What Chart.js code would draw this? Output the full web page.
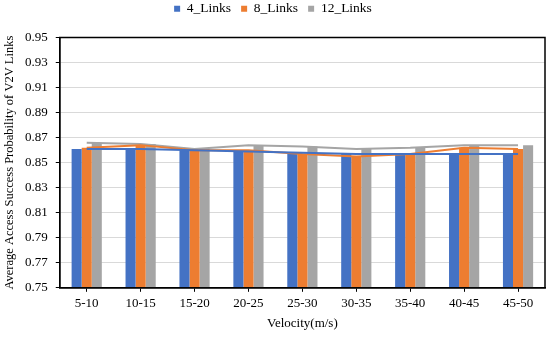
<!DOCTYPE html>
<html>
<head>
<meta charset="utf-8">
<script src="https://cdn.jsdelivr.net/npm/chart.js@4.4.1/dist/chart.umd.min.js"></script>
<style>
  html, body { margin: 0; padding: 0; background: #fff; }
  #chart { display: block; }
</style>
</head>
<body>
<canvas id="chart" width="550" height="337"></canvas>
<script>
// velocity ranges on the x axis
const velocities = ['5-10', '10-15', '15-20', '20-25', '25-30', '30-35', '35-40', '40-45', '45-50'];
// access success probability per link count
const links4 = [0.861, 0.861, 0.860, 0.859, 0.858, 0.857, 0.857, 0.857, 0.857];
const links8 = [0.862, 0.864, 0.860, 0.860, 0.857, 0.855, 0.857, 0.862, 0.861];
const links12 = [0.866, 0.865, 0.861, 0.864, 0.863, 0.861, 0.862, 0.864, 0.864];
const seriesNames = ['4_Links', '8_Links', '12_Links'];
const yTicks = [0.75, 0.77, 0.79, 0.81, 0.83, 0.85, 0.87, 0.89, 0.91, 0.93, 0.95];

const colors = ['#4472C4', '#ED7D31', '#A5A5A5'];
const serif = 'Liberation Serif, Times New Roman, serif';
const all = [links4, links8, links12];

// box round the plot area
const frame = {
    id: 'frame',
    afterDraw(chart) {
        const a = chart.chartArea, ctx = chart.ctx;
        ctx.save();
        ctx.strokeStyle = '#000';
        ctx.lineWidth = 1.5;
        ctx.strokeRect(a.left, a.top, a.right - a.left, a.bottom - a.top);
        ctx.restore();
    }
};

// extra room under the legend
const legendGap = {
    id: 'legendGap',
    beforeInit(chart) {
        const fit = chart.legend.fit;
        chart.legend.fit = function () {
            fit.bind(chart.legend)();
            this.height += 12;
        };
    }
};

let datasets = [];
all.forEach(function (vals, i) {
    datasets.push({
        type: 'line', label: seriesNames[i] + ' line', data: vals,
        borderColor: colors[i], borderWidth: 2, pointRadius: 0,
        fill: false, tension: 0, order: 0
    });
});
all.forEach(function (vals, i) {
    datasets.push({
        type: 'bar', label: seriesNames[i], data: vals,
        backgroundColor: colors[i], borderWidth: 0,
        barPercentage: 1.0, categoryPercentage: 0.56, order: 1
    });
});

new Chart(document.getElementById('chart'), {
    data: { labels: velocities, datasets: datasets },
    options: {
        responsive: false, animation: false,
        layout: { padding: { left: 1, right: 5, top: -8, bottom: 6 } },
        plugins: {
            legend: {
                position: 'top',
                labels: {
                    boxWidth: 6, boxHeight: 6, padding: 10, color: '#000',
                    font: { family: serif, size: 13.5 },
                    filter: function (item) { return item.text.indexOf(' line') < 0; }
                }
            },
            tooltip: { enabled: false }
        },
        scales: {
            x: {
                grid: { display: true, drawOnChartArea: false, drawTicks: true, tickLength: 4, color: '#000', offset: false },
                border: { color: '#000', width: 1.5 },
                ticks: { color: '#000', font: { family: serif, size: 13 }, padding: 4 },
                title: { display: true, text: 'Velocity(m/s)', color: '#000', font: { family: serif, size: 13 }, padding: { top: 0, bottom: 0 } }
            },
            y: {
                min: 0.75, max: 0.95,
                afterBuildTicks: function (axis) { axis.ticks = yTicks.map(function (v) { return { value: v }; }); },
                grid: { color: '#D9D9D9', tickColor: '#000', tickLength: 4, drawTicks: true },
                border: { color: '#000', width: 1.5 },
                ticks: {
                    color: '#000', font: { family: serif, size: 13 }, padding: 8,
                    callback: function (v) { return v.toFixed(2); }
                },
                title: { display: true, text: 'Average Access Success Probability of V2V Links', color: '#000', font: { family: serif, size: 12.5 }, padding: { top: 1, bottom: 0 } }
            }
        }
    },
    plugins: [frame, legendGap]
});
</script>
</body>
</html>
